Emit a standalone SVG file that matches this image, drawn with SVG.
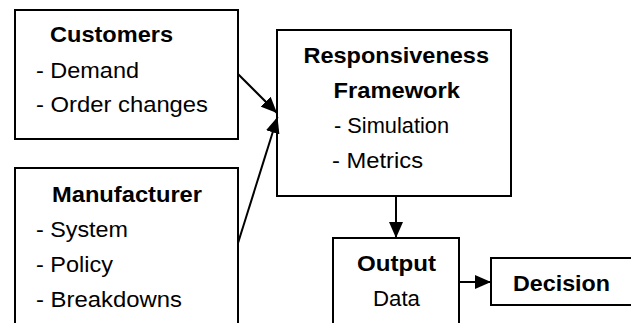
<svg xmlns="http://www.w3.org/2000/svg" width="631" height="323" viewBox="0 0 631 323">
<style>
.box{fill:#fff;stroke:#000;stroke-width:2}
.t{font-family:"Liberation Sans",Arial,sans-serif;font-size:22px;fill:#000}
.b{font-weight:bold}
.c{stroke:#000;stroke-width:2;fill:none}
</style>
<defs>
<marker id="ah" markerUnits="userSpaceOnUse" markerWidth="16" markerHeight="14" refX="16" refY="7" orient="auto">
<path d="M0,0 L16,7 L0,14 z" fill="#000"/>
</marker>
</defs>
<rect width="631" height="323" fill="#fff"/>
<g id="customers">
<rect class="box" x="15" y="10" width="223" height="129"/>
<text class="t b" x="50" y="42" textLength="123" lengthAdjust="spacingAndGlyphs">Customers</text>
<text class="t" x="36" y="77.5" textLength="103" lengthAdjust="spacingAndGlyphs">- Demand</text>
<text class="t" x="36" y="111.5" textLength="172" lengthAdjust="spacingAndGlyphs">- Order changes</text>
</g>
<g id="manufacturer">
<rect class="box" x="15" y="168" width="223" height="180"/>
<text class="t b" x="52" y="201.5" textLength="150" lengthAdjust="spacingAndGlyphs">Manufacturer</text>
<text class="t" x="36" y="237" textLength="92" lengthAdjust="spacingAndGlyphs">- System</text>
<text class="t" x="36" y="271.5" textLength="77" lengthAdjust="spacingAndGlyphs">- Policy</text>
<text class="t" x="36" y="306.5" textLength="146" lengthAdjust="spacingAndGlyphs">- Breakdowns</text>
</g>
<g id="framework">
<rect class="box" x="277" y="30" width="234" height="166"/>
<text class="t b" x="303.5" y="62.5" textLength="185.5" lengthAdjust="spacingAndGlyphs">Responsiveness</text>
<text class="t b" x="333.5" y="98" textLength="126.5" lengthAdjust="spacingAndGlyphs">Framework</text>
<text class="t" x="334" y="133" textLength="115" lengthAdjust="spacingAndGlyphs">- Simulation</text>
<text class="t" x="332" y="167.5" textLength="91" lengthAdjust="spacingAndGlyphs">- Metrics</text>
</g>
<g id="output">
<rect class="box" x="333" y="238" width="126" height="110"/>
<text class="t b" x="357" y="270.5" textLength="79" lengthAdjust="spacingAndGlyphs">Output</text>
<text class="t" x="373" y="305.5" textLength="47" lengthAdjust="spacingAndGlyphs">Data</text>
</g>
<g id="decision">
<rect class="box" x="491" y="258" width="160" height="47"/>
<text class="t b" x="513" y="290.5" textLength="97" lengthAdjust="spacingAndGlyphs">Decision</text>
</g>
<g id="connectors">
<line class="c" x1="238" y1="74" x2="277" y2="113" marker-end="url(#ah)"/>
<line class="c" x1="238" y1="243" x2="277.5" y2="117" marker-end="url(#ah)"/>
<line class="c" x1="396" y1="196" x2="396" y2="238" marker-end="url(#ah)"/>
<line class="c" x1="459" y1="282" x2="491" y2="282" marker-end="url(#ah)"/>
</g>
</svg>
